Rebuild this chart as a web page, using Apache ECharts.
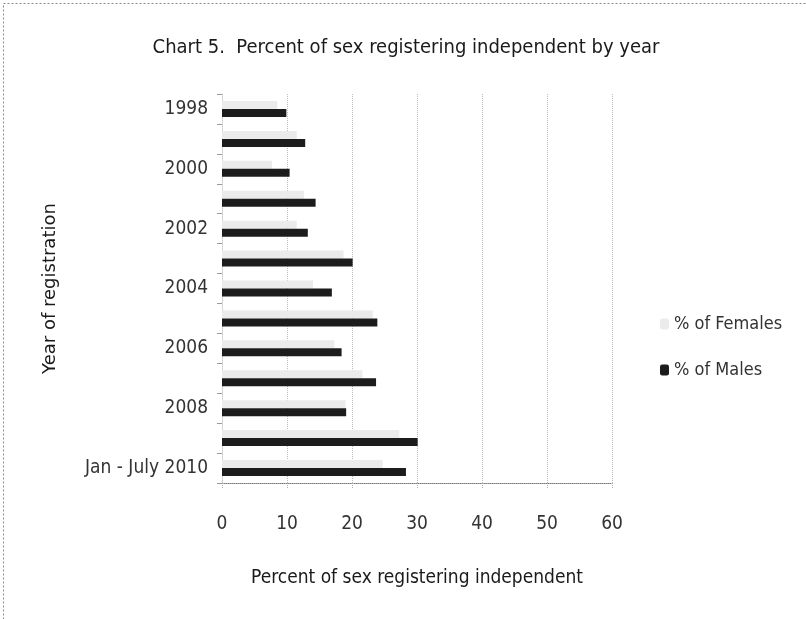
<!DOCTYPE html>
<html>
<head>
<meta charset="utf-8">
<script src="https://cdn.jsdelivr.net/npm/echarts@6/dist/echarts.min.js"></script>
<style>
  html, body { margin: 0; padding: 0; background: #ffffff; }
  #chart { width: 806px; height: 619px; }
</style>
</head>
<body>
<div id="chart"></div>
<script>
// Registration years (top to bottom)
const categories = ['1998', '1999', '2000', '2001', '2002', '2003', '2004', '2005', '2006', '2007', '2008', '2009', 'Jan - July 2010'];
// Percent of each sex registering as independent
const females = [8.5, 11.5, 7.7, 12.6, 11.5, 18.7, 14.0, 23.2, 17.3, 21.6, 19.0, 27.3, 24.7];
const males = [9.9, 12.8, 10.4, 14.4, 13.2, 20.1, 16.9, 23.9, 18.4, 23.7, 19.1, 30.1, 28.3];
const xTicks = { min: 0, max: 60, step: 10 };

const FONT = '"Liberation Sans Narrow", "DejaVu Sans Condensed", "Liberation Sans", sans-serif';

const chart = echarts.init(document.getElementById('chart'), null, { renderer: 'canvas' });

chart.setOption({
  backgroundColor: '#ffffff',
  animation: false,
  textStyle: { fontFamily: FONT, color: '#1a1a1a' },
  title: {
    text: 'Chart 5.  Percent of sex registering independent by year',
    left: 401,
    top: 33,
    textAlign: 'center',
    textStyle: { fontFamily: FONT, fontSize: 20, fontWeight: 'normal', color: '#1a1a1a' }
  },
  legend: {
    orient: 'vertical',
    left: 655,
    top: 310,
    itemWidth: 9,
    itemHeight: 11,
    itemGap: 28,
    textStyle: { fontFamily: FONT, fontSize: 18, color: '#333333' },
    data: ['% of Females', '% of Males']
  },
  grid: { left: 222, right: 194, top: 94, bottom: 136, containLabel: false },
  xAxis: {
    type: 'value',
    min: xTicks.min,
    max: xTicks.max,
    interval: xTicks.step,
    name: 'Percent of sex registering independent',
    nameLocation: 'middle',
    nameGap: 86,
    nameTextStyle: { fontFamily: FONT, fontSize: 19, color: '#1a1a1a' },
    axisLine: { show: true, lineStyle: { color: '#777777', type: 'dotted', width: 1 } },
    axisTick: { show: true, length: 5, lineStyle: { color: '#aaaaaa', type: 'dotted' } },
    axisLabel: { fontFamily: FONT, fontSize: 19, color: '#333333', margin: 32 },
    splitLine: { show: true, lineStyle: { color: '#bbbbbb', type: 'dotted', width: 1 } }
  },
  yAxis: {
    type: 'category',
    data: categories,
    inverse: true,
    name: 'Year of registration',
    nameLocation: 'middle',
    nameGap: 163,
    nameRotate: 90,
    nameTextStyle: { fontFamily: '"DejaVu Sans", sans-serif', fontSize: 18, color: '#1a1a1a' },
    axisLine: { show: true, lineStyle: { color: '#cccccc', type: 'dotted' } },
    axisTick: { show: true, interval: 0, length: 5, lineStyle: { color: '#999999' } },
    axisLabel: { interval: 1, fontFamily: FONT, fontSize: 19, color: '#333333', margin: 14 },
    splitLine: { show: false }
  },
  series: [
    {
      name: '% of Females',
      type: 'bar',
      data: females,
      barWidth: 8,
      barGap: '0%',
      itemStyle: { color: '#ebebeb' }
    },
    {
      name: '% of Males',
      type: 'bar',
      data: males,
      barWidth: 8,
      barGap: '0%',
      itemStyle: { color: '#1c1c1c' }
    }
  ],
  graphic: [
    {
      type: 'rect',
      silent: true,
      shape: { x: 3.5, y: 3.5, width: 820, height: 640 },
      style: { fill: 'none', stroke: '#888888', lineWidth: 1, lineDash: [2, 2] }
    }
  ]
});
</script>
</body>
</html>
